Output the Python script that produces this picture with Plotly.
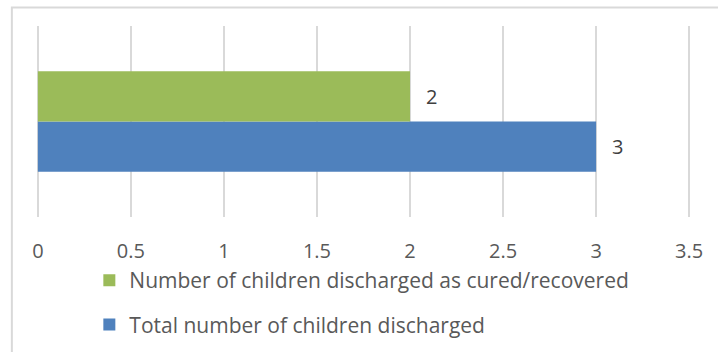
import plotly.graph_objects as go

# Discharge outcome figures
category = ["Children"]
series_names = ["Total number of children discharged",
                "Number of children discharged as cured/recovered"]
series_values = [[3], [2]]
series_colors = ["#4f81bd", "#9bbb59"]
legend_ranks = [2, 1]
x_ticks = [0, 0.5, 1, 1.5, 2, 2.5, 3, 3.5]
x_tick_labels = ["0", "0.5", "1", "1.5", "2", "2.5", "3", "3.5"]

W, H = 718, 352
ML, MR, MT, MB = 35.64, 27.14, 26, 135
FONT = "Open Sans"
TEXT = "#595959"
FS = 20

fig = go.Figure()
for name, vals, col, rank in zip(series_names, series_values, series_colors, legend_ranks):
    fig.add_trace(go.Bar(
        y=category, x=vals, name=name, orientation="h",
        marker=dict(color=col, line=dict(width=0)),
        legendgroup=name, legendrank=rank,
    ))

# value labels to the right of each bar
n = len(series_names)
for i, (vals, col) in enumerate(zip(series_values, series_colors)):
    for v in vals:
        fig.add_annotation(
            x=v, y=0, xref="x", yref="y", text=str(v),
            showarrow=False, xanchor="left", xshift=14,
            yshift=(i - (n - 1) / 2) * 50.5,
            font=dict(family=FONT, size=FS, color="#404040"),
        )

pw = W - ML - MR
ph = H - MT - MB
# chart-area border (left and top edges visible)
fig.add_shape(type="rect", xref="paper", yref="paper",
              x0=(11.5 - ML) / pw, x1=(W + 20 - ML) / pw,
              y0=-(H + 20 - MT - ph) / ph, y1=1 + (MT - 7.5) / ph,
              line=dict(color="#d9d9d9", width=2), layer="below")

fig.update_layout(
    width=W, height=H,
    margin=dict(l=ML, r=MR, t=MT, b=MB, pad=0, autoexpand=False),
    paper_bgcolor="white", plot_bgcolor="white",
    barmode="group", bargap=0.475, bargroupgap=0,
    showlegend=True,
    legend=dict(
        orientation="v", traceorder="grouped",
        x=(89 - ML) / pw, xanchor="left",
        y=-(260 - MT - ph) / ph, yanchor="top",
        font=dict(family=FONT, size=21, color=TEXT),
        tracegroupgap=14, itemwidth=30,
        bgcolor="rgba(0,0,0,0)",
    ),
    xaxis=dict(
        range=[-0.01, 3.51], tickvals=x_ticks, ticktext=x_tick_labels,
        showgrid=True, gridcolor="#d9d9d9", gridwidth=1.5,
        zeroline=False, showline=False, ticks="",
        ticklabelstandoff=20,
        tickfont=dict(family=FONT, size=FS, color=TEXT),
        fixedrange=True,
    ),
    yaxis=dict(
        range=[-0.5, 0.5], showticklabels=False, showgrid=False,
        zeroline=False, showline=False, fixedrange=True,
    ),
)

fig.write_html("out.html")
